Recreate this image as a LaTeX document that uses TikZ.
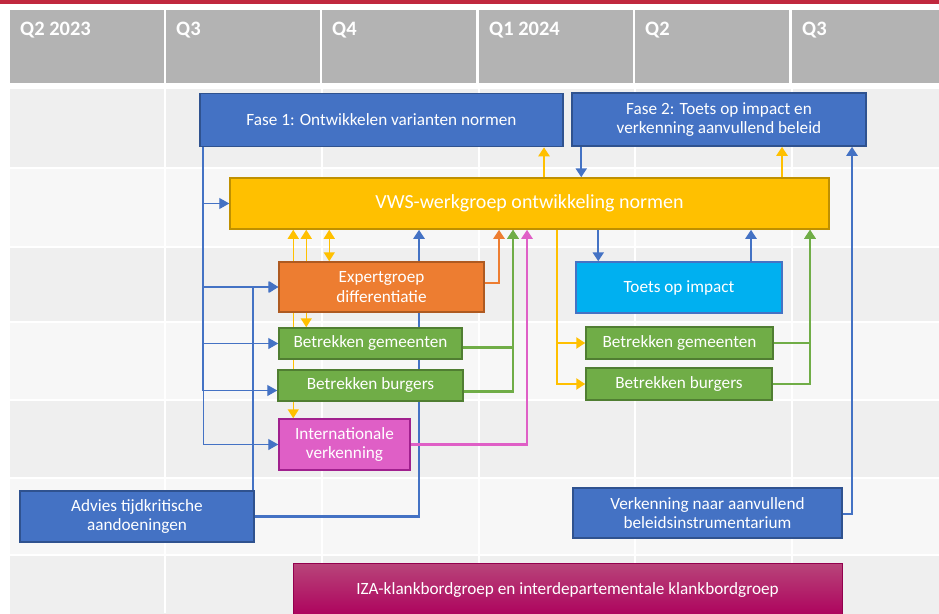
\documentclass[tikz,border=0pt]{standalone}
\usepackage{fontspec}
\setmainfont{Carlito}
\usetikzlibrary{arrows.meta,positioning,calc}

\definecolor{rood}{HTML}{C0283E}
\definecolor{kop}{HTML}{B3B3B3}
\definecolor{rijdonker}{HTML}{EFEFEF}
\definecolor{rijlicht}{HTML}{F7F7F7}
\definecolor{blauw}{HTML}{4472C4}
\definecolor{blauwrand}{HTML}{2F528F}
\definecolor{geel}{HTML}{FFC000}
\definecolor{geelrand}{HTML}{BF9000}
\definecolor{oranje}{HTML}{ED7D31}
\definecolor{oranjerand}{HTML}{AE5A21}
\definecolor{groen}{HTML}{70AD47}
\definecolor{groenrand}{HTML}{507E32}
\definecolor{roze}{HTML}{DF5FC6}
\definecolor{rozerand}{HTML}{A0208E}
\definecolor{cyaan}{HTML}{00B0F0}
\definecolor{iza}{HTML}{AD005C}
\definecolor{izalicht}{HTML}{B8457A}

\pgfdeclarelayer{achter}
\pgfsetlayers{achter,main}

\tikzstyle{doos} = [draw, line width=1.5pt, inner sep=0pt, align=center, text=white, font=\fontsize{17.2}{19.5}\selectfont]
\tikzstyle{blauwedoos} = [doos, fill=blauw, draw=blauwrand]
\tikzstyle{groenedoos} = [doos, fill=groen, draw=groenrand, minimum height=31]
\tikzstyle{kopje} = [anchor=base west, inner sep=0pt, text=white, font=\bfseries\fontsize{20.5}{24}\selectfont]
\tikzstyle{pijl} = [line width=2.3pt, -{Triangle[length=9pt,width=11pt]}]
\tikzstyle{dubbelpijl} = [line width=1.5pt, {Triangle[length=9pt,width=11pt]}-{Triangle[length=9pt,width=11pt]}]
\tikzstyle{dunnepijl} = [line width=1.3pt, -{Triangle[length=10pt,width=11pt]}]

\begin{document}
\begin{tikzpicture}[x=1pt, y=-1pt]
  \useasboundingbox (0,0) rectangle (939,613);

  % fases
  \node[blauwedoos, minimum width=363, minimum height=53] (fase1) at (381.5,120) {Fase 1: Ontwikkelen varianten normen};
  \node[blauwedoos, minimum width=294, minimum height=53] (fase2) at (719,119.5) {Fase 2: Toets op impact en\\verkenning aanvullend beleid};

  \node[doos, fill=geel, draw=geelrand, minimum width=599, minimum height=51, font=\fontsize{20}{24}\selectfont] (vws) at (529.5,203.5) {VWS-werkgroep ontwikkeling normen};

  % fase 1 onderdelen
  \node[doos, fill=oranje, draw=oranjerand, minimum width=205, minimum height=50] (expert) at (381.5,287) {Expertgroep\\differentiatie};
  \node[groenedoos, minimum width=183] (gemL) at (370.5,343.5) {Betrekken gemeenten};
  \node[groenedoos, minimum width=185] (burL) at (370.5,385.5) {Betrekken burgers};
  \node[doos, fill=roze, draw=rozerand, minimum width=131, minimum height=51] (intl) at (344.5,444.5) {Internationale\\verkenning};

  % fase 2 onderdelen
  \node[doos, fill=cyaan, draw=blauw, minimum width=206, minimum height=51] (toets) at (679,287.5) {Toets op impact};
  \node[groenedoos, minimum width=187, minimum height=32] (gemR) at (679.5,343) {Betrekken gemeenten};
  \node[groenedoos, minimum width=186, minimum height=32] (burR) at (679,384) {Betrekken burgers};

  \node[blauwedoos, minimum width=234, minimum height=51] (advies) at (137,516.5) {Advies tijdkritische\\aandoeningen};
  \node[blauwedoos, minimum width=269, minimum height=50] (verk) at (707.5,513) {Verkenning naar aanvullend\\beleidsinstrumentarium};

  \node[doos, draw=iza!85!black, line width=0.8pt, top color=izalicht, middle color=iza, bottom color=iza, minimum width=549, minimum height=54] (iza) at (567.5,590) {IZA-klankbordgroep en interdepartementale klankbordgroep};

  \begin{pgfonlayer}{achter}
    % achtergrond
    \fill[white] (0,0) rectangle (939,613);
    \fill[rood] (0,0) rectangle (939,3.5);
    \foreach \x/\q in {10/Q2 2023, 166/Q3, 322/Q4, 479/Q1 2024, 635/Q2, 792/Q3} {
      \fill[kop] (\x,10) rectangle ++(154,73);
      \node[kopje] (kop\x) at (\x+10,35) {\q};
    }
    \foreach \y/\c in {89/rijdonker, 168/rijlicht, 247/rijdonker, 322/rijlicht, 400/rijdonker, 478/rijlicht, 555/rijdonker}
      \fill[\c] (10,\y) rectangle (939,\y+80);
    \foreach \x in {165, 321.5, 478.5, 635, 791.5}
      \draw[white, line width=2pt] (\x,89) -- (\x,613);
    \foreach \y in {168, 247, 322, 400, 478, 555}
      \draw[white, line width=2pt] (10,\y) -- (939,\y);

    % fase 1 naar onderdelen
    \coordinate (stam) at ([xshift=4]fase1.south west);
    \draw[blauw, line width=2pt] (stam) -- ([yshift=-5]stam |- burL.west);
    \draw[blauw, line width=1.3pt] ([yshift=-5]stam |- burL.west) -- (stam |- intl.west);
    \draw[dunnepijl, blauw] (stam |- vws.west) -- (vws.west);
    \draw[dunnepijl, blauw] (stam |- expert.west) -- (expert.west);
    \draw[dunnepijl, blauw] (stam |- gemL.west) -- (gemL.west);
    \draw[dunnepijl, blauw] ([yshift=-5]stam |- burL.west) -- ([yshift=-5]burL.west);
    \draw[dunnepijl, blauw] (stam |- intl.west) -- (intl.west);

    % advies
    \draw[pijl, blauw] ([xshift=-2]advies.north east) |- (expert.west);
    \draw[pijl, blauw] (advies.east) -| ([xshift=-110.5]vws.south);

    % werkgroep en onderdelen
    \draw[dubbelpijl, geel] ([xshift=64]vws.south west) -- ([xshift=64]vws.south west |- intl.north);
    \draw[dubbelpijl, geel] ([xshift=77]vws.south west) -- ([xshift=77]vws.south west |- gemL.north);
    \draw[dubbelpijl, geel] ([xshift=100]vws.south west) -- ([xshift=100]vws.south west |- expert.north);
    \draw[pijl, oranje] ([yshift=4]expert.east) -| ([xshift=-30.5]vws.south);
    \draw[pijl, groen] ([yshift=-4]gemL.east) -| ([xshift=-16.5]vws.south);
    \draw[pijl, groen] ([yshift=-6]burL.east) -| ([xshift=-16.5]vws.south);
    \draw[pijl, roze] (intl.east) -| ([xshift=-2.5]vws.south);

    % fase 2 kant
    \draw[pijl, geel] ([xshift=328]vws.south west) |- (gemR.west);
    \draw[pijl, geel] ([xshift=328]vws.south west) |- (burR.west);
    \draw[pijl, blauw] ([xshift=369]vws.south west) -- ([xshift=369]vws.south west |- toets.north);
    \draw[pijl, blauw] ([xshift=72]toets.north) -- ([xshift=72]toets.north |- vws.south);
    \draw[pijl, groen] (gemR.east) -| ([xshift=280.5]vws.south);
    \draw[pijl, groen] (burR.east) -| ([xshift=280.5]vws.south);
    \draw[pijl, blauw] ([yshift=-1]verk.east) -| ([xshift=133]fase2.south);

    % werkgroep naar fases
    \draw[pijl, geel] ([xshift=14.5]vws.north) -- ([xshift=14.5]vws.north |- fase1.south);
    \draw[pijl, geel] ([xshift=252.5]vws.north) -- ([xshift=252.5]vws.north |- fase2.south);
    \draw[pijl, blauw] ([xshift=10]fase2.south west) -- ([xshift=10]fase2.south west |- vws.north);
  \end{pgfonlayer}
\end{tikzpicture}
\end{document}
